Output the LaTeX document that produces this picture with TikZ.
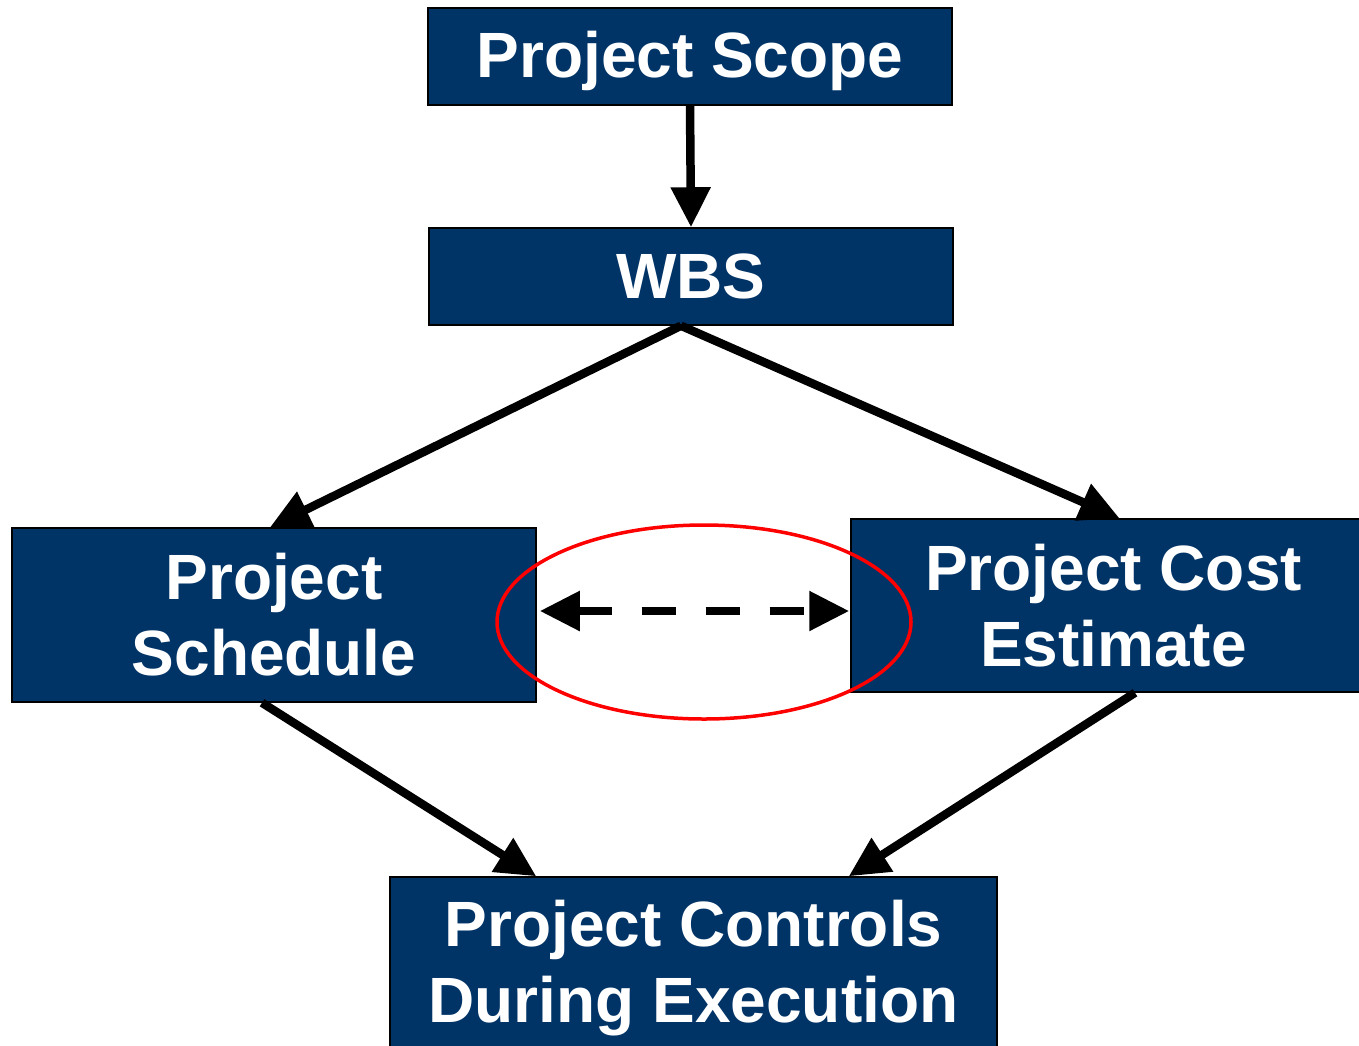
\documentclass[tikz,border=0pt]{standalone}
\usepackage{fontspec}
\setmainfont{Liberation Sans}
\usetikzlibrary{arrows.meta,shapes.geometric}
\definecolor{navy}{RGB}{0,51,102}
\begin{document}
\begin{tikzpicture}[x=1pt,y=-1pt,
  box/.style={draw=black,line width=1.5pt,fill=navy,text=white,align=center,
    font=\fontsize{64}{76}\selectfont\bfseries,inner sep=0pt},
  conn/.style={line width=8.5pt,-{Triangle[length=40pt,width=38pt]}},
  dconn/.style={line width=8.5pt,dash pattern=on 34pt off 30pt,
    {Triangle[length=40pt,width=38pt]}-{Triangle[length=40pt,width=38pt]}}]
\useasboundingbox (0,0) rectangle (1359,1045);
\node[box,minimum width=524pt,minimum height=97pt,text depth=5pt] (scope) at (690,56.5) {Project Scope};
\node[box,minimum width=524pt,minimum height=97pt] (wbs) at (691,276.5) {WBS};
\node[box,minimum width=524pt,minimum height=174pt] (sched) at (274,615) {Project\\Schedule};
\node[box,minimum width=525pt,minimum height=173pt] (cost) at (1113.5,605.5) {Project Cost\\Estimate};
\node[box,minimum width=607pt,minimum height=182pt] (ctrl) at (693.5,968) {Project Controls\\During Execution};
\draw[conn] (scope.south) -- (wbs.north);
\draw[conn] ([xshift=-10pt]wbs.south) -- ([xshift=-4pt]sched.north);
\draw[conn] ([xshift=-10pt]wbs.south) -- ([xshift=6pt]cost.north);
\draw[conn] ([xshift=-12pt]sched.south) -- ([xshift=147pt]ctrl.north west);
\draw[conn] ([xshift=21.5pt]cost.south) -- ([xshift=-149pt]ctrl.north east);
\draw[dconn] ([xshift=3pt,yshift=4pt]sched.east) -- ([xshift=-1pt,yshift=-5.5pt]cost.west);
\node[draw=red,line width=3.5pt,ellipse,minimum width=414pt,minimum height=194pt,inner sep=0pt] (ell) at (704,622) {};
\end{tikzpicture}
\end{document}
